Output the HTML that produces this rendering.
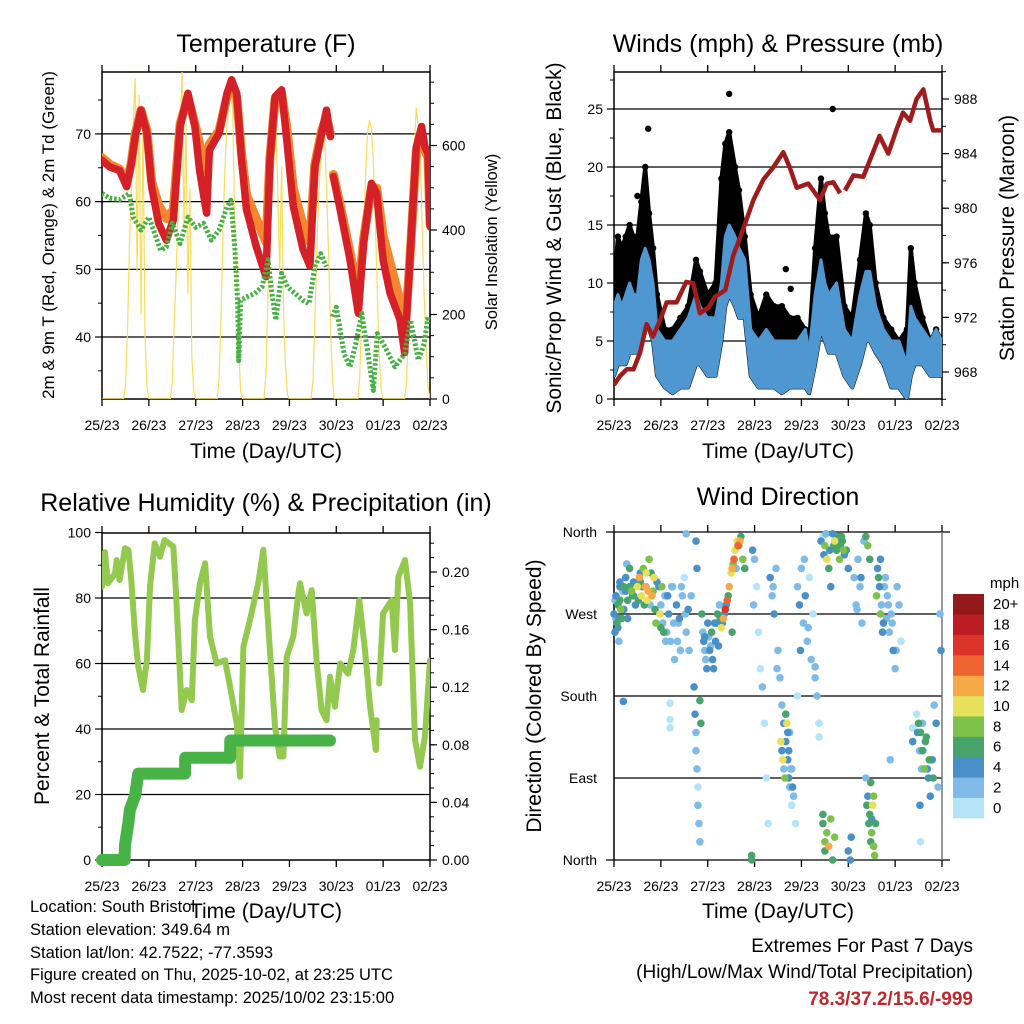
<!DOCTYPE html>
<html><head><meta charset="utf-8"><title>Station Meteogram</title>
<style>
body{margin:0;background:#fff;}
svg{display:block;font-family:"Liberation Sans",Arial,sans-serif;}
</style></head>
<body>
<svg id="fig" width="1024" height="1024" viewBox="0 0 1024 1024" xmlns="http://www.w3.org/2000/svg">
<defs>
<clipPath id="c1"><rect x="102" y="72" width="328" height="327"/></clipPath>
<clipPath id="c2"><rect x="614" y="72" width="328" height="327"/></clipPath>
<clipPath id="c3"><rect x="102" y="533" width="328" height="327"/></clipPath>
<clipPath id="c4"><rect x="610" y="526" width="336" height="338"/></clipPath>
</defs>
<rect width="1024" height="1024" fill="#fff"/>
<g font-size="25" text-anchor="middle" fill="#000">
<text x="266" y="52">Temperature (F)</text>
<text x="778" y="52">Winds (mph) &amp; Pressure (mb)</text>
<text x="266" y="511">Relative Humidity (%) &amp; Precipitation (in)</text>
<text x="778" y="505">Wind Direction</text>
</g>
<g font-size="21" text-anchor="middle">
<text x="266" y="458">Time (Day/UTC)</text>
<text x="778" y="458">Time (Day/UTC)</text>
<text x="266" y="918">Time (Day/UTC)</text>
<text x="778" y="918">Time (Day/UTC)</text>
<text transform="translate(561,238) rotate(-90)">Sonic/Prop Wind &amp; Gust (Blue, Black)</text>
<text transform="translate(1014,238) rotate(-90)">Station Pressure (Maroon)</text>
<text transform="translate(49,696) rotate(-90)">Percent &amp; Total Rainfall</text>
<text transform="translate(541,696) rotate(-90)">Direction (Colored By Speed)</text>
</g>
<g text-anchor="middle">
<text transform="translate(54,235) rotate(-90)" font-size="17">2m &amp; 9m T (Red, Orange) &amp; 2m Td (Green)</text>
<text transform="translate(497,242) rotate(-90)" font-size="16.5">Solar Insolation (Yellow)</text>
</g>
<g font-size="16.5">
<text x="30" y="912">Location: South Bristol</text>
<text x="30" y="935">Station elevation: 349.64 m</text>
<text x="30" y="958">Station lat/lon: 42.7522; -77.3593</text>
<text x="30" y="980">Figure created on Thu, 2025-10-02, at 23:25 UTC</text>
<text x="30" y="1003">Most recent data timestamp: 2025/10/02 23:15:00</text>
</g>
<g font-size="19" text-anchor="end">
<text x="973" y="952">Extremes For Past 7 Days</text>
<text x="973" y="978">(High/Low/Max Wind/Total Precipitation)</text>
<text x="973" y="1005" fill="#c0282d" font-weight="bold">78.3/37.2/15.6/-999</text>
</g>
<g id="layer"></g>
</svg>
<script>
// ---------- data ----------
const dayLabels = ["25/23","26/23","27/23","28/23","29/23","30/23","01/23","02/23"];
const tempTicks = [40,50,60,70];
const solarTicks = [0,200,400,600];
const windTicks = [0,5,10,15,20,25];
const presTicks = [968,972,976,980,984,988];
const rhTicks = [0,20,40,60,80,100];
const precTicks = [0,0.04,0.08,0.12,0.16,0.20];
const dirTicks = [0,90,180,270,360];
const dirLabels = ["North","East","South","West","North"];
const speedBins = [0,2,4,6,8,10,12,14,16,18,20];
const speedBinLabels = ["0","2","4","6","8","10","12","14","16","18","20+"];
const speedColors = ["#b5e3f8","#7fbbe6","#4a8fc8","#48a36d","#7cc24a","#e6e05a","#f6aa47","#ef6430","#dc3428","#bc1c24","#941a1a"];

const tempT = [0,4,9,12.6,15,17,20,23,25.4,29,33,36.5,40,44,47.6,50,53.6,55,60,64,66.4,69,71.5,74,79,84,86,88.6,92,94.6,98,103,106.5,109,112.5,115,117,117.7,118.5,122,127,131.3,134,138,140.7,144,147.5,152.6,155,157.7,161,163.7,165.4,167,168];
const tempRed = [66.1,65.1,64.6,62.2,65.6,69.6,73.5,70.1,62.2,56.8,54.3,57.3,71.1,76,71.1,64.6,58.3,67.6,70.1,76,78,76,66.1,58.8,53.4,48.9,66.1,75.5,76.5,69.2,59.3,52.9,50.5,65.1,70.1,73.5,69.6,null,63.7,58.8,51.4,43.5,53.9,62.7,61.2,51.4,46.5,42.6,37.7,51.4,68.1,71.1,68.1,67.1,56.3];
const tempOrange = [66.5,65.5,64.8,62.6,65.8,70,73.5,70.5,63,59.5,57.5,58.8,71.5,75.5,71.5,68.5,64.5,68.5,70.5,75.5,77,75.5,67,61,57.5,54,66.5,75,76,71,62,56.5,54,65.5,70.5,72.5,70,null,64,59.5,52.5,46.5,54.5,62,62,55,51,45.5,40,51.5,67.5,70,67.5,66.5,56.8];
const dewT = [0,4,9,14,16,20,24,27,30,33,36,40,44,48,52,56,60,64,66,68,69.5,70,71,74,78,82,85,87,89,92,95,99,103,106,109,112,115,116.5,118,120,124,127,130,133,136,139,141,145,150,155,158,162,165,167,168];
const dewV = [61.2,60.5,60.3,61.2,57.7,55.8,57.7,55.3,52.8,53.3,56.8,53.8,57.7,56.2,56.8,54.3,55.8,59.2,60.2,53.3,45,36.5,45.4,45.9,46.4,47.4,51.4,46.4,42.5,49.4,47.4,46.4,45.4,44.9,50.4,52.3,50.4,null,43,44.4,37.5,35.6,39,43.5,38,32.1,40.5,38.5,35.6,37.5,42.5,36.6,39,43,42];
const solarT = [0,11,12,13,14,15,16,17,18,19,20,21,22,23,24,35,36,37,38,39,40,41,42,43,44,45,46,47,48,59,60,61,62,63,64,65,66,67,68,69,70,71,72,83,84,85,86,87,88,89,90,91,92,93,94,95,96,107,108,109,110,111,112,113,114,115,116,117,118,119,120,131,132,133,134,135,136,137,138,139,140,141,142,143,144,155,156,157,158,159,160,161,162,163,164,165,166,167,168];
const solarV = [0,0,30,150,350,500,650,760,300,720,200,650,150,30,0,0,40,180,300,450,600,780,400,650,250,500,100,20,0,0,50,200,400,550,650,700,740,680,400,300,120,20,0,0,60,250,450,600,680,650,500,300,550,200,80,10,0,0,40,180,350,480,580,640,620,500,350,180,50,0,0,0,50,200,380,530,630,660,640,560,420,260,100,20,0,0,40,180,350,500,600,690,640,600,400,250,120,30,0];

const windT = [0,2,4,6,8,10,12,14,16,18,20,22,26,30,34,38,42,44,48,52,55,57,59,62,64,67,70,74,78,82,86,90,94,98,100,103,106,108,110,114,118,122,126,129,131,134,138,142,146,150,152,154,158,162,165,168];
const windLo = [2,3,3,3,4,4,4,5,7,6,5,2,1,0.5,1,1,3,3,2,2,5,8,9,8,7,7,2,1,1,1,0.5,1,1,1,0.5,3,6,5,4,4,2,1,3,5,5,4,3,1,1,0,2,3,3,2,2,2];
const windHi = [8,9,8,9,10,9,9,12,13,12,10,6,5,5,6,7,9,8,7,7,10,14,15,14,13,12,6,5,6,5,5,5,5,6,4,9,12,10,9,10,6,5,9,11,11,8,6,5,5,3,8,7,6,5,6,5];
const gustHi = [10,14,13,14,15,14,14,17,20,16,13,9,6,6,7,8,12,11,9,10,19,22,23,20,18,14,9,7,9,8,8,7,7,6,5,13,19,16,14,14,8,7,12,16,15,10,7,6,5,6,13,10,7,5,6,5];
const gustOutT = [17.5,59,112,90.5,88,5,12];
const gustOutV = [23.3,26.3,25,9.5,11.2,11,17.5];
const presT = [0,3,6.5,10,13.3,16.7,20,23.6,27,32,37,40.6,44,48.3,51.7,57,61,66,71.4,76.5,81.6,86.7,90,93.6,99.5,105.5,109,112.3,115.8,117,118.3,122.6,127.7,131,136,140.5,144.8,148,151.6,155,158.4,162,163.5,168];
const presV = [967.05,967.7,968.2,968.2,969.4,971.5,970.6,971.8,973.1,973.1,974.6,974.5,972.3,972.7,973.5,974.0,976.5,978.4,980.6,982.1,983.0,984.1,983.0,981.5,981.8,980.6,981.8,981.9,981.1,null,981.3,982.4,982.3,983.5,985.3,984.0,985.8,987.0,986.4,988.0,988.7,986.4,985.7,985.7];

const rhT = [0,1.5,3,6.7,7.5,9,11.8,13.5,15,17,18.6,21,23,24.6,27,29.7,32,36.5,38,40.8,43.4,46,47.6,50.2,52.8,55.3,58.7,63,65.6,69,70.7,72.4,75.8,80,82.6,86,88.6,91,92.9,94.6,98,100.6,101.4,104.8,107.4,110,112.5,115,116.8,119.3,122,126,128.7,131.8,134.7,137.3,140.3,140.7,141.3,142,144,148.4,150,151.8,155.2,157.8,160.3,162.9,165.4,168];
const rhV = [83.5,94,84.5,87.5,91.6,85.5,95.2,94.7,85.5,68.2,59,51.9,61,83.5,96.7,92.6,97.7,95.7,80.4,45.8,51.9,48.8,73.3,84.5,90.6,68.2,60,61,52.9,41.7,25.4,65.1,73.3,84.5,94.7,64.1,40.7,31.6,31.6,62,68.2,81.4,84.5,75.3,82.4,60,45.8,42.7,56,46.8,60,56.9,64.1,79.3,64.1,46.8,33.6,42.7,null,53.9,75.3,79.3,64.1,86.5,91.6,78.3,36.6,28.5,37.6,61];
const precT = [0,11.5,11.8,13.5,14.3,17,17.8,18.6,42.5,42.6,65.6,65.7,116.8];
const precV = [0,0,0.0104,0.026,0.035,0.045,0.053,0.06,0.06,0.071,0.071,0.083,0.083];

const wdT = [0,0.5,1,1.5,2,2.5,3,3.5,4,4.5,4.8,5,6,7,8,9,10,11,12,13,14,15,16,17,18,19,20,21,22,23,24,25,26,27,28,28.7,28.7,28.7,29,30,31,32,33,34,35,36,37,37,38,41,41.5,42,42,42.5,43,43,43.5,44,44,44.5,42,42.5,45,46,47,48,49,50,51,52,53,54,55,56,57,58,59,60,61,62,63,64,65,66,67,70.5,70.5,71,71.5,72,73,74,75,76,77,78,79,80,81,82,83,84,85,86,86,87,87,88,88,89,89,89.5,90,90,91,91,92,93,94,94,95,96,97,98,99,100,101,102,103,104,105,103,105,107,108,107,108,109,110,111,112,113,114,107,108,109,110,111,112,113,115,116,117,118,119,120,120,121,121.5,123,124,125,126,127,128,129,130,131,129,130,131,132,133,133.5,134,132.5,131.5,135,136,137,138,139,140,141,142,143,144,145,146,147,153,153,156.7,157,155,156,157,158,159,160,161,162,163,164,165,166,167,167.5,0.5,2.5,3,6.5,9.5,13.5,16.5,18.5,24,26.5,29.5,33.5,46.5,49.5,52.5,60.5,62.5,81.5,83.5,95.5,97.5,99.5,124.5,126.5,136.5,139.5,141.5,158.5,160.5];
const wdD = [270,250,290,260,280,240,300,275,265,295,174,300,310,285,320,295,305,280,300,310,290,320,300,285,330,315,295,275,305,300,280,260,290,250,270,172,154,145,240,300,220,280,260,230,290,310,250,358,275,190,160,140,120,100,80,60,40,20,175,150,350,320,270,240,220,260,230,250,210,240,270,280,255,265,275,285,300,315,325,340,350,345,355,330,320,5,0,340,280,330,300,250,210,190,150,90,40,310,290,270,320,230,200,170,120,150,100,130,160,110,140,90,140,80,100,60,70,40,180,300,280,320,260,290,240,310,220,270,200,180,150,212,135,355,345,40,20,330,320,300,358,350,340,50,10,30,15,45,0,25,355,345,350,335,340,320,10,0,25,310,280,330,300,260,350,355,345,330,90,70,50,30,15,5,40,60,85,320,300,280,260,310,290,250,270,230,210,300,280,240,145,130,60,20,160,150,140,120,100,135,90,70,110,170,150,80,270,230,285,265,305,325,290,315,300,280,255,240,300,265,245,235,260,250,320,300,210,230,330,255,275,310,330,265,110,120,100];
const wdS = [4,4,5,6,7,3,4,8,6,3,4,6,5,7,6,8,5,4,10,12,11,9,12,10,8,7,9,6,5,4,3,2,3,2,4,1,1,1,2,3,2,4,2,3,2,1,2,2,4,4,4,3,2,2,1,2,2,2,6,6,4,4,6,4,3,5,4,7,4,5,6,3,11,13,16,14,12,10,9,11,10,8,7,8,6,7,6,4,2,2,1,1,1,2,1,1,1,4,3,4,3,2,2,3,4,4,3,4,6,5,4,4,3,3,3,1,2,1,1,2,4,3,2,4,2,1,2,1,3,2,1,2,1,1,8,7,8,10,6,5,4,10,7,6,7,9,12,9,6,8,7,7,6,5,7,4,4,4,4,3,2,2,2,3,2,7,8,6,3,4,6,8,9,8,7,10,6,4,4,3,4,2,2,2,3,4,2,2,2,1,1,4,4,1,1,6,7,6,8,7,5,4,4,3,4,3,3,4,3,5,4,3,7,5,2,3,6,3,2,4,5,2,4,6,3,2,3,4,3,3,2,5,4,3,2,1,4,3,5,6,4];
const wd2T = [1,2,3,5,6,7,8,10,12.5,13.5,14.5,15.5,16.5,17.5,19.5,20.5,21.5,23.5,24.5,25.5,27.5,30.5,32.5,34.5,36.5,38.5,39.5,45.5,46.5,47.5,48.5,50.5,51.5,53.5,54.5,55.5,56.5,57.5,58.5,60.5,61.5,63.5,64.5,85.5,86.5,87.5,88.5,89.5,90.5,91.5,106,107.5,108.5,110.5,112.5,114.5,115.5,116.5,117.5,129.5,130.5,131.5,132,133,134.5,135.5,136.5,137.5,138.5,140.5,142.5,144.5,155.5,156.5,157.5,158,159.5,161.5,163.5];
const wd2D = [265,255,285,275,295,265,300,290,285,305,300,280,315,295,290,310,260,270,300,250,290,260,240,300,270,230,290,250,230,210,245,220,260,235,265,260,270,280,290,320,330,345,350,130,110,90,150,120,100,80,350,335,358,340,345,350,330,355,340,60,40,20,45,70,290,310,270,250,300,280,260,230,140,120,100,150,130,110,90];
const wd2S = [5,4,6,5,7,6,5,7,11,13,12,10,9,11,8,7,5,3,2,2,3,2,3,2,3,4,2,5,4,4,6,4,5,4,7,12,14,15,12,11,10,9,11,4,3,4,5,4,3,4,7,6,9,6,8,6,6,7,5,8,9,7,8,5,3,3,2,3,4,3,2,3,6,7,6,6,7,4,4];

// ---------- helpers ----------
const NS = "http://www.w3.org/2000/svg";
const layer = document.getElementById("layer");
function mk(tag, attrs, parent){
  const e = document.createElementNS(NS, tag);
  for (const k in attrs) e.setAttribute(k, attrs[k]);
  (parent||layer).appendChild(e);
  return e;
}
function xOf(x0, t){ return x0 + t/168*328; }
function yTemp(v){ return 337 - (v-40)*6.77; }
function ySolar(v){ return 399 - v*0.4225; }
function ySpd(v){ return 399 - v*11.6; }
function yPres(p){ return 372 - (p-968)*13.65; }
function yRH(v){ return 860 - v*3.275; }
function yPrec(v){ return 860 - v*1440; }
function yDir(d){ return 860 - d*328/360; }
function pathFrom(ts, vs, x0, yf){
  let d = "", pen = false;
  for (let i=0;i<ts.length;i++){
    if (vs[i]===null){ pen=false; continue; }
    d += (pen?"L":"M") + xOf(x0,ts[i]).toFixed(1) + " " + yf(vs[i]).toFixed(1) + " ";
    pen = true;
  }
  return d;
}
function bandFrom(ts, lo, hi, x0, yf){
  let d = "M";
  for (let i=0;i<ts.length;i++) d += xOf(x0,ts[i]).toFixed(1)+" "+yf(hi[i]).toFixed(1)+" L";
  for (let i=ts.length-1;i>=0;i--) d += xOf(x0,ts[i]).toFixed(1)+" "+yf(lo[i]).toFixed(1)+(i?" L":" Z");
  return d;
}
function speedColor(s){
  let k = 0;
  for (let i=0;i<speedBins.length;i++) if (s>=speedBins[i]) k=i;
  return speedColors[k];
}
function frame(name, x0, y0, x1, y1, withBox){
  const g = mk("g", {});
  
  
  if (withBox){
    const r = mk("rect", {x:x0, y:y0, width:x1-x0, height:y1-y0, fill:"none", stroke:"#000", "stroke-width":1.5}, g);
    
    
  }
  for (let i=0;i<dayLabels.length;i++){
    const x = x0 + i*328/7;
    const tb = mk("line", {x1:x, x2:x, y1:y1, y2:y1+7, stroke:"#000", "stroke-width":1.3}, g);
    
    
    const tt = mk("line", {x1:x, x2:x, y1:y0-7, y2:y0, stroke:"#000", "stroke-width":1.3}, g);
    
    
    const lab = mk("text", {x:x, y:y1+31, "font-size":14, "text-anchor":"middle"}, g);
    lab.textContent = dayLabels[i];
    
    
  }
  return g;
}
function hgrid(g, ys, xa, xb, col){
  ys.forEach(y=>{
    const l = mk("line", {x1:xa, x2:xb, y1:y, y2:y, stroke:col||"#000", "stroke-width":1.2}, g);
    
    
  });
}
function yTicks(g, vals, labels, yf, x, side, fs, minorStep, lo, hi){
  vals.forEach((v,i)=>{
    const y = yf(v);
    const t = mk("line", {x1:x, x2:x+(side==="left"?-7:7), y1:y, y2:y, stroke:"#000", "stroke-width":1.2}, g);
    
    
    const tx = mk("text", {x: side==="left"? x-11 : x+12, y: y+fs*0.36, "font-size":fs, "text-anchor": side==="left"?"end":"start"}, g);
    tx.textContent = labels[i];
    
    
  });
  if (minorStep){
    for (let v=lo; v<=hi+1e-9; v+=minorStep){
      const y = yf(v);
      const m = mk("line", {x1:x, x2:x+(side==="left"?-4:4), y1:y, y2:y, stroke:"#000", "stroke-width":1}, g);
      
      
    }
  }
}

// ---------- Panel 1: Temperature ----------
(function(){
  const g = frame("temperature-panel", 102, 72, 430, 399, true);
  hgrid(g, tempTicks.map(yTemp), 102, 430);
  yTicks(g, tempTicks, tempTicks.map(String), yTemp, 102, "left", 14, 5, 35, 75);
  yTicks(g, solarTicks, solarTicks.map(String), ySolar, 430, "right", 14, 50, 0, 750);
  const c = mk("g", {"clip-path":"url(#c1)"}, g);
  const s = mk("path", {d:pathFrom(solarT, solarV, 102, ySolar), fill:"none", stroke:"#f7dd5a", "stroke-width":1.2}, c);
  
  
  const o = mk("path", {d:pathFrom(tempT, tempOrange, 102, yTemp), fill:"none", stroke:"#f5862f", "stroke-width":9, "stroke-linejoin":"round", "stroke-linecap":"round"}, c);
  
  
  const r = mk("path", {d:pathFrom(tempT, tempRed, 102, yTemp), fill:"none", stroke:"#d42027", "stroke-width":7.5, "stroke-linejoin":"round", "stroke-linecap":"round"}, c);
  
  
  const d = mk("path", {d:pathFrom(dewT, dewV, 102, yTemp), fill:"none", stroke:"#45b043", "stroke-width":5, "stroke-dasharray":"2.5 2", "stroke-linejoin":"round"}, c);
  
  
})();

// ---------- Panel 2: Winds & Pressure ----------
(function(){
  const g = frame("winds-panel", 614, 72, 942, 399, true);
  hgrid(g, windTicks.slice(1).map(ySpd), 614, 942);
  yTicks(g, windTicks, windTicks.map(String), ySpd, 614, "left", 14, 2.5, 0, 27.5);
  yTicks(g, presTicks, presTicks.map(String), yPres, 942, "right", 14, 2, 966, 990);
  const c = mk("g", {"clip-path":"url(#c2)"}, g);
  const gb = mk("path", {d:bandFrom(windT, windLo, gustHi, 614, ySpd), fill:"#000", stroke:"#000", "stroke-width":4, "stroke-linejoin":"round"}, c);
  
  
  for (let i=0;i<windT.length;i++){
    const p = mk("circle", {cx:xOf(614,windT[i]), cy:ySpd(gustHi[i]), r:3.2, fill:"#000"}, c);
    
    
  }
  for (let i=0;i<gustOutT.length;i++){
    const p = mk("circle", {cx:xOf(614,gustOutT[i]), cy:ySpd(gustOutV[i]), r:3.2, fill:"#000"}, c);
    
    
  }
  const wb = mk("path", {d:bandFrom(windT, windLo, windHi, 614, ySpd), fill:"#4f97d1", stroke:"#4f97d1", "stroke-width":3, "stroke-linejoin":"round"}, c);
  
  
  const pr = mk("path", {d:pathFrom(presT, presV, 614, yPres), fill:"none", stroke:"#a01c1c", "stroke-width":4.5, "stroke-linejoin":"round"}, c);
  
  
})();

// ---------- Panel 3: RH & Precip ----------
(function(){
  const g = frame("humidity-panel", 102, 533, 430, 860, true);
  hgrid(g, rhTicks.slice(1,5).map(yRH), 102, 430);
  yTicks(g, rhTicks, rhTicks.map(String), yRH, 102, "left", 14, 10, 0, 100);
  yTicks(g, precTicks, precTicks.map(v=>v.toFixed(2)), yPrec, 430, "right", 14, 0.01, 0, 0.22);
  const c = mk("g", {"clip-path":"url(#c3)"}, g);
  const rh = mk("path", {d:pathFrom(rhT, rhV, 102, yRH), fill:"none", stroke:"#92c94e", "stroke-width":6, "stroke-linejoin":"round", "stroke-linecap":"round"}, c);
  
  
  const pc = mk("path", {d:pathFrom(precT, precV, 102, yPrec), fill:"none", stroke:"#47b346", "stroke-width":12, "stroke-linejoin":"round", "stroke-linecap":"round"}, g);
  
  
})();

// ---------- Panel 4: Wind direction ----------
(function(){
  const g = frame("wind-direction-panel", 614, 532, 942, 860, false);
  hgrid(g, [yDir(90), yDir(180), yDir(270)], 614, 942);
  hgrid(g, [yDir(0), yDir(360)], 606, 950);
  const la = mk("line", {x1:614, x2:614, y1:532, y2:860, stroke:"#000", "stroke-width":1.5}, g);
  
  
  const ra = mk("line", {x1:942, x2:942, y1:532, y2:860, stroke:"#777", "stroke-width":1.5}, g);
  
  
  dirTicks.forEach((d,i)=>{
    const t = mk("text", {x:597, y:yDir(d)+5, "font-size":14, "text-anchor":"end"}, g);
    t.textContent = dirLabels[i];
    
    
  });
  const c = mk("g", {"clip-path":"url(#c4)"}, g);
  const allT = wdT.concat(wd2T), allD = wdD.concat(wd2D), allS = wdS.concat(wd2S);
  const order = allS.map((s,i)=>i).sort((a,b)=>allS[a]-allS[b]);
  order.forEach(i=>{
    const p = mk("circle", {cx:xOf(614,allT[i]), cy:yDir(allD[i]), r:3.8, fill:speedColor(allS[i])}, c);
    
    
  });
  // colorbar
  const cb = mk("g", {}, g);
  
  
  const h = 224/speedColors.length;
  for (let i=0;i<speedColors.length;i++){
    const y = 818 - (i+1)*h;
    const r = mk("rect", {x:953, y:y, width:31, height:h+0.3, fill:speedColors[i]}, cb);
    
    
    const t = mk("text", {x:993, y:y+h/2+5, "font-size":15}, cb);
    t.textContent = speedBinLabels[i];
    
    
  }
  const u = mk("text", {x:990, y:588, "font-size":15}, cb);
  u.textContent = "mph";
  
  
})();
</script>
</body></html>
